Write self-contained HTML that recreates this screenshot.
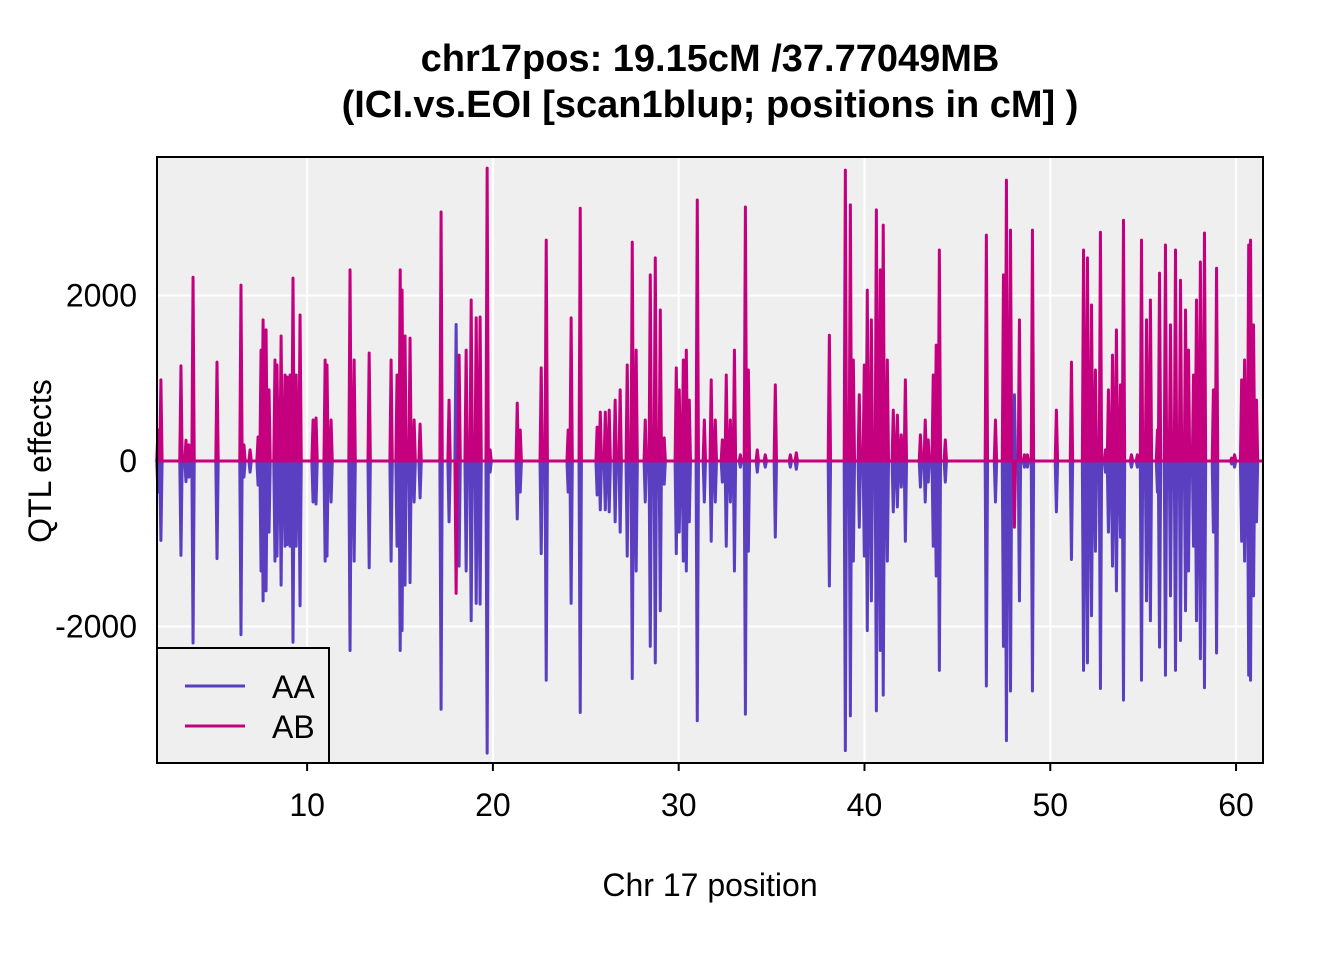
<!DOCTYPE html>
<html><head><meta charset="utf-8"><style>
body{margin:0;background:#fff;}
svg text{font-family:"Liberation Sans",Arial,sans-serif;}
</style></head><body>
<svg width="1344" height="960" xmlns="http://www.w3.org/2000/svg">
<text x="710" y="71" text-anchor="middle" font-size="38" font-weight="bold">chr17pos: 19.15cM /37.77049MB</text>
<text x="710" y="117" text-anchor="middle" font-size="38" font-weight="bold">(ICI.vs.EOI [scan1blup; positions in cM] )</text>
<rect x="157" y="157" width="1106" height="606" fill="#efefef"/>
<g id="grid"></g>
<g id="series"></g>
<rect x="157" y="157" width="1106" height="606" fill="none" stroke="#000" stroke-width="2"/>
<g id="xticks"></g>
<g id="yticks"></g>
<text x="710" y="896" text-anchor="middle" font-size="32">Chr 17 position</text>
<text transform="translate(51,461) rotate(-90)" text-anchor="middle" font-size="32">QTL effects</text>
<g>
<rect x="157" y="648" width="172" height="115" fill="#efefef" stroke="#000" stroke-width="2"/>
<line x1="185" y1="686" x2="245" y2="686" stroke="#5a3fc0" stroke-width="3"/>
<text x="272" y="698" font-size="32">AA</text>
<line x1="185" y1="726" x2="245" y2="726" stroke="#c4007f" stroke-width="3"/>
<text x="272" y="738" font-size="32">AB</text>
</g>
</svg>
<script>
const positions=[1.97,2.13,3.21,3.48,3.64,3.86,5.15,6.44,6.60,6.93,7.36,7.52,7.63,7.79,7.95,8.27,8.38,8.60,8.81,8.92,9.08,9.24,9.41,9.62,10.32,10.48,10.97,11.07,11.29,12.31,12.53,13.34,14.52,14.84,15.01,15.11,15.27,15.54,15.76,16.08,17.21,17.64,18.02,18.18,18.56,18.83,19.10,19.31,19.69,19.85,21.31,21.47,22.60,22.87,24.05,24.21,24.70,25.61,25.78,26.05,26.26,26.58,26.85,27.23,27.50,27.71,28.20,28.47,28.74,29.01,29.22,29.87,30.03,30.25,30.41,30.57,31.00,31.38,31.75,31.97,32.35,32.56,32.78,33.00,33.32,33.59,33.75,34.23,34.66,35.20,36.01,36.33,38.11,38.97,39.24,39.40,39.72,39.99,40.15,40.37,40.64,40.85,41.01,41.23,41.55,41.77,41.98,42.20,43.01,43.27,43.43,43.70,43.86,44.03,44.35,46.56,47.05,47.48,47.64,47.86,48.07,48.34,48.61,48.77,49.04,50.33,51.14,51.79,52.00,52.22,52.43,52.70,52.97,53.13,53.35,53.56,53.78,53.94,54.37,54.69,54.91,55.18,55.39,55.77,55.88,56.20,56.47,56.74,57.01,57.28,57.44,57.71,57.87,58.08,58.30,58.78,58.95,59.76,59.92,60.30,60.46,60.68,60.78,60.94,61.10];
const abValues=[375,980,1150,250,195,2220,1195,2125,195,135,290,1340,1705,1585,860,1220,1160,1510,1040,1015,1040,2210,1040,1765,495,520,1220,1160,495,2310,1220,1305,1220,1040,2310,2065,1510,1485,495,445,3010,735,-1600,1280,1340,1945,1730,1740,3540,135,700,375,1125,2670,375,1730,3055,410,590,590,615,735,860,1160,2645,1340,495,2250,2455,1825,280,1125,860,1220,1340,735,3155,495,980,495,255,1040,495,1340,75,3070,1100,135,75,920,75,100,1520,3515,3095,1220,800,1160,2065,1705,3035,2310,2850,1220,615,555,315,980,315,495,255,1040,1400,2550,255,2730,495,2250,3395,2790,-800,1705,75,75,2790,615,1195,2550,2455,1885,1100,2765,135,860,1280,1585,920,2910,75,75,2670,1705,1945,375,2270,2610,1645,2550,2185,1825,1340,1040,1945,2405,2755,860,2330,35,75,980,1220,2610,2670,1645,735];
const aaValues=[-375,-960,-1140,-250,-195,-2200,-1180,-2100,-195,-135,-290,-1330,-1690,-1570,-860,-1210,-1150,-1500,-1030,-1010,-1030,-2190,-1030,-1750,-495,-520,-1210,-1150,-495,-2290,-1210,-1290,-1210,-1030,-2290,-2050,-1500,-1470,-495,-445,-3000,-735,1650,-1270,-1330,-1930,-1720,-1730,-3530,-135,-700,-375,-1120,-2650,-375,-1720,-3040,-410,-590,-590,-615,-735,-860,-1150,-2630,-1330,-495,-2240,-2440,-1810,-280,-1120,-860,-1210,-1330,-735,-3140,-495,-970,-495,-255,-1030,-495,-1330,-75,-3060,-1090,-135,-75,-920,-75,-100,-1510,-3500,-3080,-1210,-800,-1150,-2050,-1690,-3020,-2290,-2830,-1210,-615,-555,-315,-970,-315,-495,-255,-1030,-1390,-2530,-255,-2720,-495,-2240,-3380,-2780,800,-1690,-75,-75,-2780,-615,-1190,-2530,-2440,-1870,-1090,-2750,-135,-860,-1270,-1570,-920,-2890,-75,-75,-2650,-1690,-1930,-375,-2250,-2590,-1630,-2530,-2170,-1810,-1330,-1030,-1930,-2390,-2740,-860,-2320,-35,-75,-970,-1210,-2590,-2650,-1630,-735];
const xTicks=[10,20,30,40,50,60];
const yTicks=[-2000,0,2000];
const X0=1.92,X1=61.45,Y0=-3650,Y1=3674,L=157,R=1263,T=157,B=763;
const xs=v=>L+(v-X0)/(X1-X0)*(R-L);
const ys=v=>B-(v-Y0)/(Y1-Y0)*(B-T);
const NS="http://www.w3.org/2000/svg";
function mk(tag,attrs,parent){const e=document.createElementNS(NS,tag);for(const k in attrs)e.setAttribute(k,attrs[k]);document.getElementById(parent).appendChild(e);return e;}
xTicks.forEach(t=>{
 const g=mk('line',{x1:xs(t),x2:xs(t),y1:T,y2:B,stroke:'#fff','stroke-width':2},'grid');
 
 
 const tk=mk('line',{x1:xs(t),x2:xs(t),y1:B,y2:B+8,stroke:'#000','stroke-width':2},'xticks');
 
 
 const tx=mk('text',{x:xs(t),y:B+53,'text-anchor':'middle','font-size':32},'xticks');
 tx.textContent=t;
 
 
});
yTicks.forEach(t=>{
 const g=mk('line',{x1:L,x2:R,y1:ys(t),y2:ys(t),stroke:'#fff','stroke-width':2},'grid');
 
 
 const tx=mk('text',{x:L-20,y:ys(t)+11,'text-anchor':'end','font-size':32},'yticks');
 tx.textContent=t;
 
 
});
function pathFor(vals){
 let d='M'+L+' '+ys(0);
 positions.forEach((p,i)=>{const x=xs(p);d+=' L'+(x-1.2)+' '+ys(0)+' L'+x+' '+ys(vals[i])+' L'+(x+1.2)+' '+ys(0);});
 d+=' L'+R+' '+ys(0);
 return d;
}
const aa=mk('path',{d:pathFor(aaValues),fill:'none',stroke:'#5a3fc0','stroke-width':3,'stroke-linejoin':'round'},'series');


const ab=mk('path',{d:pathFor(abValues),fill:'none',stroke:'#c4007f','stroke-width':3,'stroke-linejoin':'round'},'series');


</script>
</body></html>
